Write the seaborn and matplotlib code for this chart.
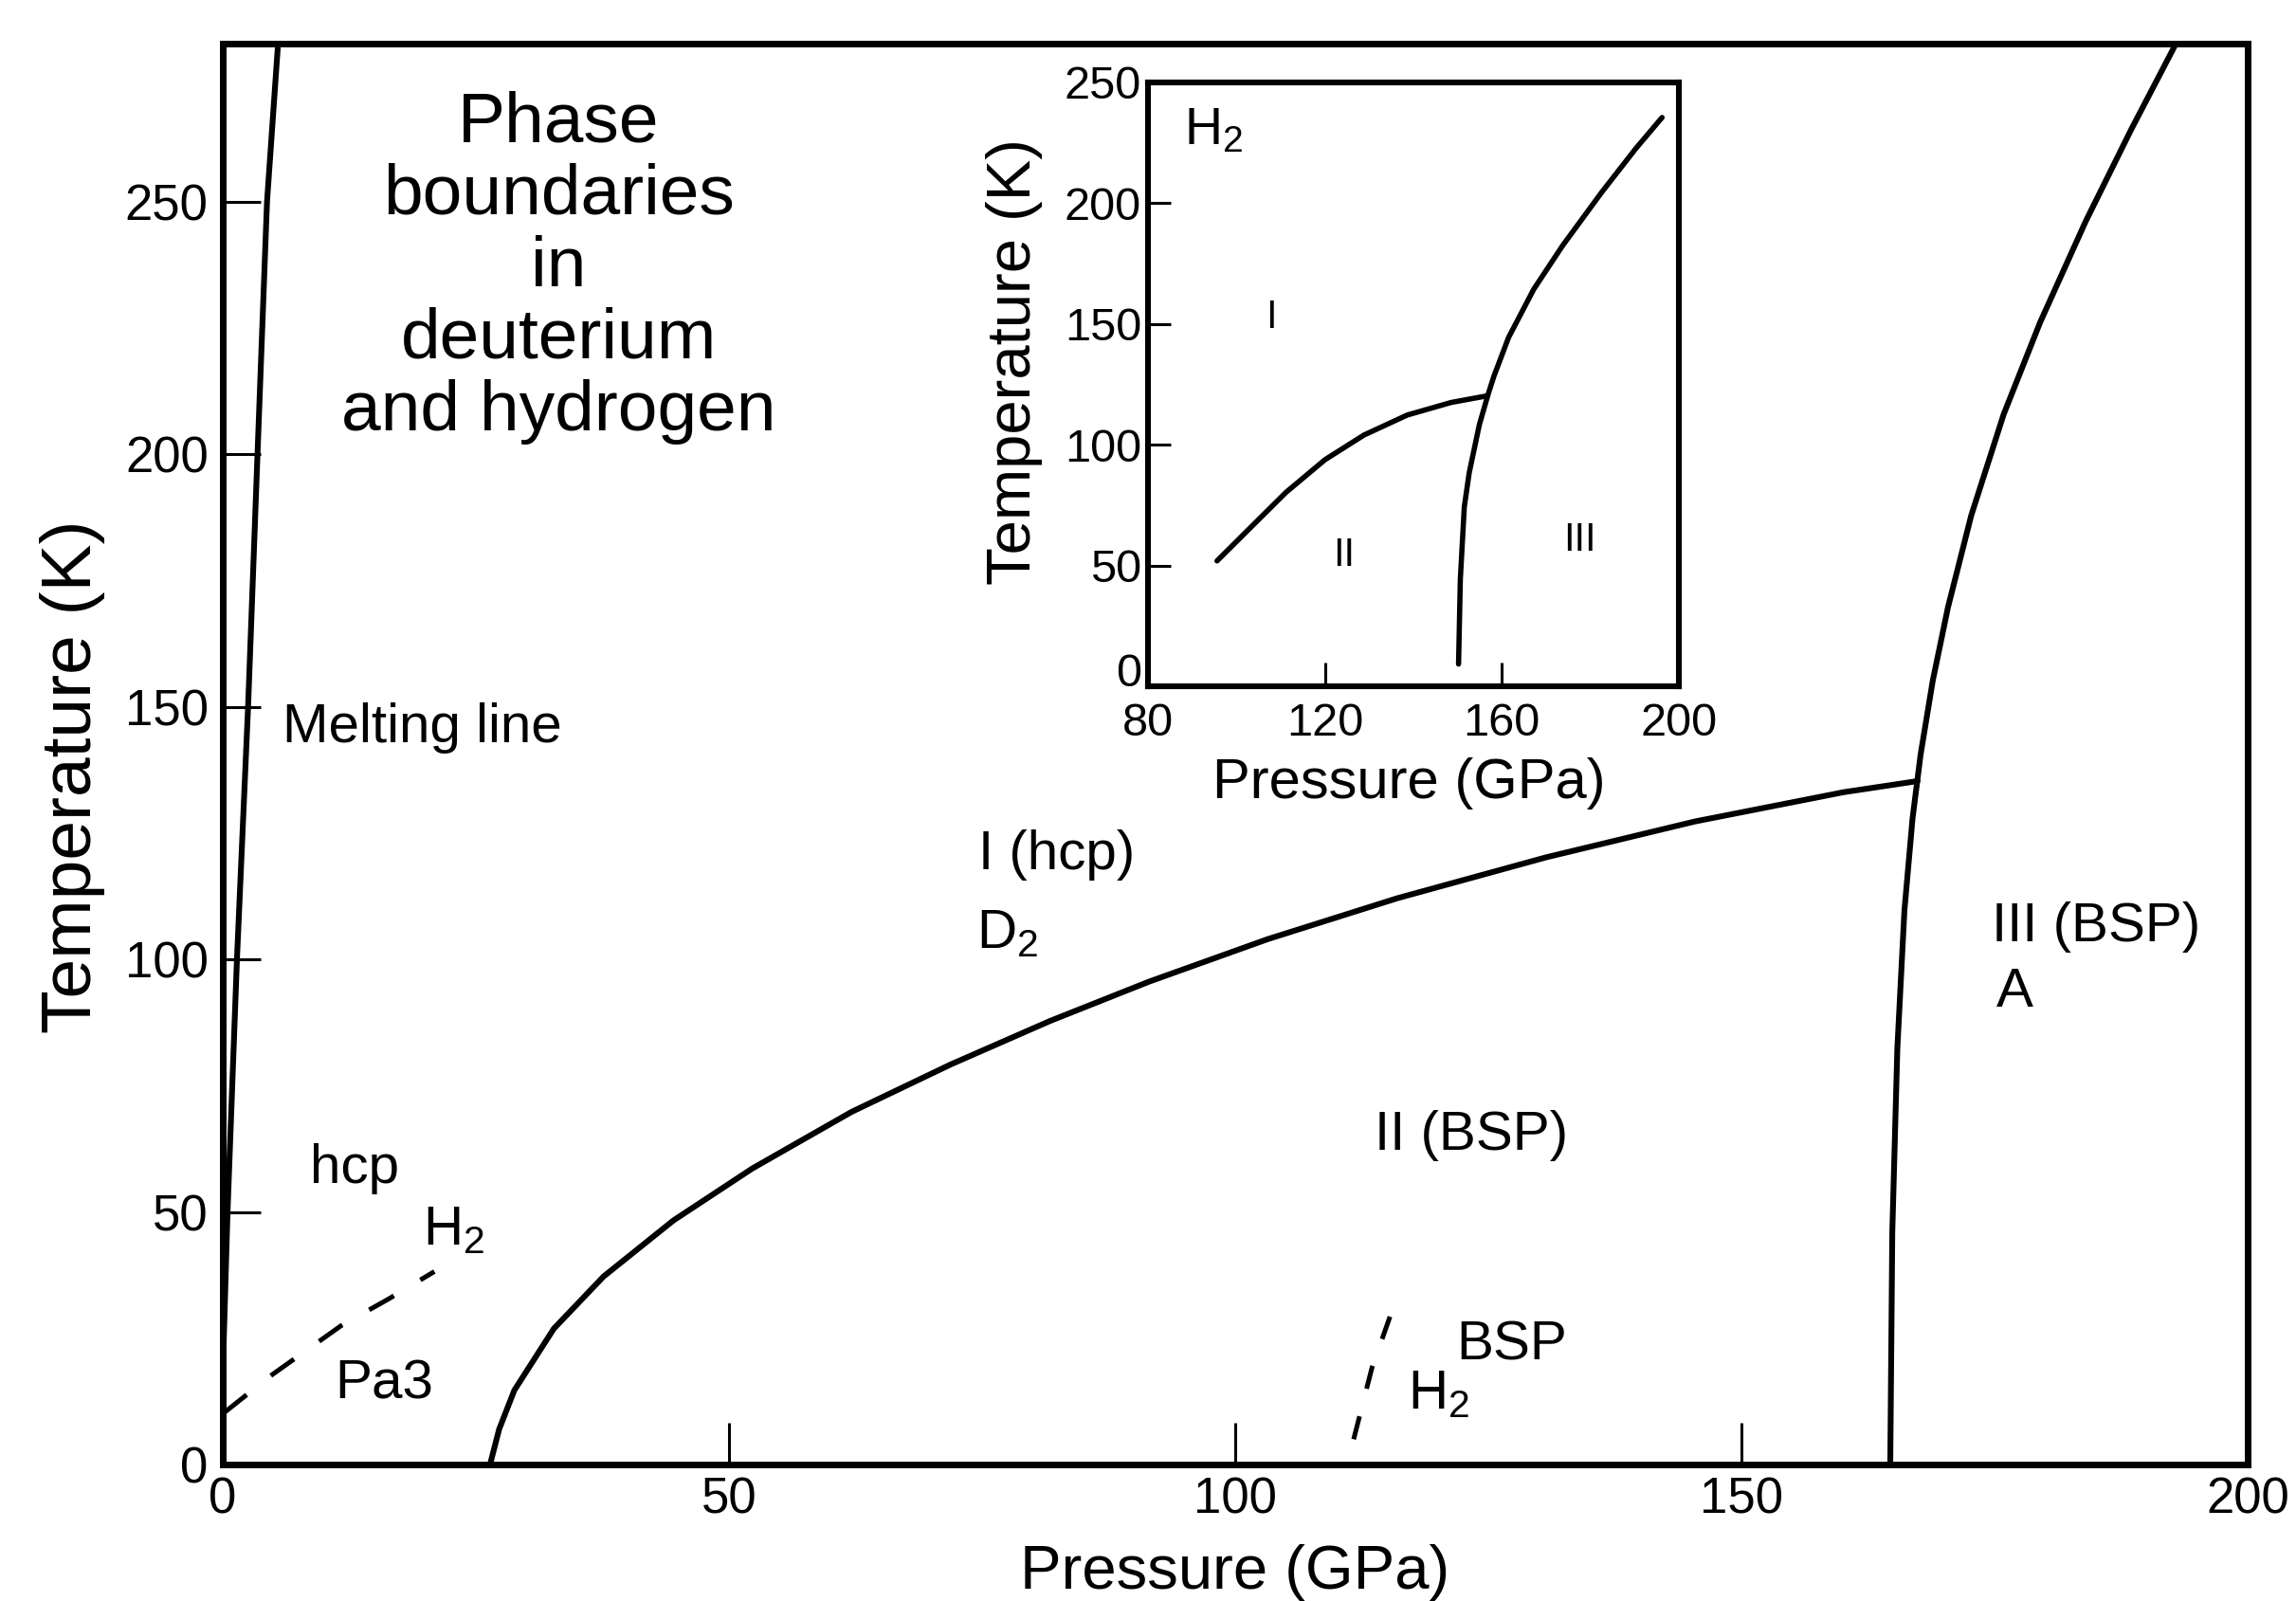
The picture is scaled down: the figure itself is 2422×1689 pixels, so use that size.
import numpy as np
import pandas as pd
import matplotlib
matplotlib.use("Agg")
import matplotlib.pyplot as plt
import seaborn as sns

# ---------------- data ----------------
# Main panel: pressure (GPa) vs temperature (K)
melt_p = [0.0, 0.47, 1.40, 2.50, 3.43, 4.37, 5.46]
melt_t = [18.0, 50.0, 100.0, 150.0, 200.0, 250.0, 281.3]

b12_p = [26.4, 27.3, 28.8, 32.7, 37.6, 44.5, 52.3, 62.1, 71.9, 81.7, 91.5,
         103.2, 116.0, 130.7, 145.4, 160.1, 167.4]
b12_t = [0.0, 7.0, 14.7, 26.9, 37.2, 48.3, 58.6, 69.8, 79.2, 87.8, 95.6,
         104.0, 112.1, 120.2, 127.3, 133.1, 135.3]

b3_p = [164.7, 164.9, 165.4, 166.1, 166.9, 167.7, 168.9, 170.4, 172.7,
        175.9, 179.5, 184.0, 188.5, 193.0]
b3_t = [0.0, 46.0, 82.4, 109.7, 127.9, 140.6, 155.2, 169.7, 187.9,
        207.9, 226.1, 246.1, 264.3, 281.6]

pa3_p = [0.16, 4.68, 11.7, 16.4, 20.9]
pa3_t = [10.3, 17.5, 27.5, 32.8, 38.2]

bsp_p = [111.7, 113.5, 115.8]
bsp_t = [5.0, 19.1, 32.2]

# Inset (H2)
in12_p = [95.6, 102.4, 111.2, 120.0, 128.8, 138.6, 148.5, 156.8]
in12_t = [51.9, 64.3, 80.3, 93.8, 104.0, 112.3, 117.5, 120.3]

in3_p = [150.2, 150.6, 151.5, 152.6, 154.9, 156.9, 158.2, 161.5, 167.2,
         173.7, 182.5, 190.2, 196.2]
in3_t = [9.2, 44.3, 74.3, 88.3, 108.3, 121.0, 128.4, 144.4, 164.4,
         182.4, 204.4, 222.5, 235.5]

main_xticks = [0, 50, 100, 150, 200]
main_yticks = [0, 50, 100, 150, 200, 250]
inset_xticks = [80, 120, 160, 200]
inset_yticks = [0, 50, 100, 150, 200, 250]

# ---------------- style ----------------
sns.set_style("white")
plt.rcParams["font.family"] = ["Liberation Sans", "DejaVu Sans"]
plt.rcParams["mathtext.fontset"] = "custom"
plt.rcParams["mathtext.rm"] = "Liberation Sans"
plt.rcParams["mathtext.it"] = "Liberation Sans:italic"
plt.rcParams["mathtext.bf"] = "Liberation Sans:bold"
for k in ["text.color", "axes.labelcolor", "xtick.color", "ytick.color",
          "axes.edgecolor"]:
    plt.rcParams[k] = "black"

W, H = 2422, 1689
fig = plt.figure(figsize=(W / 100, H / 100), dpi=100)
fig.patch.set_facecolor("white")

ax = fig.add_axes([235 / W, (H - 1545) / H, 2136 / W, 1499 / H])
LW = 4.4

def curve(a, p, t, **kw):
    df = pd.DataFrame({"P": p, "T": t})
    sns.lineplot(data=df, x="P", y="T", ax=a, sort=False, estimator=None,
                 color="black", **kw)

curve(ax, melt_p, melt_t, linewidth=LW)
curve(ax, b12_p, b12_t, linewidth=LW)
curve(ax, b3_p, b3_t, linewidth=LW)
curve(ax, pa3_p, pa3_t, linewidth=3.6, linestyle=(0, (6.0, 6.5)))
curve(ax, bsp_p, bsp_t, linewidth=3.6, linestyle=(0, (5.0, 6.0)))

ax.set_xlim(0, 200)
ax.set_ylim(0, 281.3)
ax.set_xticks(main_xticks)
ax.set_yticks(main_yticks)
ax.tick_params(axis="x", direction="in", length=32, width=2.2, pad=9,
               labelsize=38, bottom=True, top=False, colors="black")
ax.tick_params(axis="y", direction="in", length=29, width=2.2, pad=11,
               labelsize=38, left=True, right=False, colors="black")
for s in ax.spines.values():
    s.set_linewidth(5.0)
    s.set_color("black")
    s.set_visible(True)

ax.set_xlabel("Pressure (GPa)", fontsize=47)
ax.set_ylabel("Temperature (K)", fontsize=54)
ax.xaxis.set_label_coords(0.5, -0.056)
ax.yaxis.set_label_coords(-0.058, 0.484)

FS = 42
ax.text(33.2, 272.0, "Phase\nboundaries\nin\ndeuterium\nand hydrogen",
        fontsize=54, ha="center", va="top", multialignment="center",
        linespacing=1.13)
ax.text(5.9, 143.0, "Melting line", fontsize=FS, ha="left", va="baseline")
ax.text(74.6, 117.9, "I (hcp)", fontsize=FS, ha="left", va="baseline")
ax.text(74.4, 102.3, r"D$_\mathregular{2}$", fontsize=FS, ha="left", va="baseline")
ax.text(113.8, 62.3, "II (BSP)", fontsize=FS, ha="left", va="baseline")
ax.text(174.7, 103.6, "III (BSP)", fontsize=FS, ha="left", va="baseline")
ax.text(175.2, 90.7, "A", fontsize=FS, ha="left", va="baseline")
ax.text(8.6, 55.7, "hcp", fontsize=FS, ha="left", va="baseline")
ax.text(19.8, 43.5, r"H$_\mathregular{2}$", fontsize=FS, ha="left", va="baseline")
ax.text(11.1, 13.1, "Pa3", fontsize=FS, ha="left", va="baseline")
ax.text(121.8, 20.8, "BSP", fontsize=FS, ha="left", va="baseline")
ax.text(117.0, 11.0, r"H$_\mathregular{2}$", fontsize=FS, ha="left", va="baseline")

# ---------------- inset ----------------
ax2 = fig.add_axes([1211 / W, (H - 724) / H, 560 / W, 637 / H])
ax2.set_facecolor("white")
curve(ax2, in12_p, in12_t, linewidth=4.0)
curve(ax2, in3_p, in3_t, linewidth=4.0)
ax2.set_xlim(80, 200)
ax2.set_ylim(0, 250)
ax2.set_xticks(inset_xticks)
ax2.set_yticks(inset_yticks)
ax2.tick_params(axis="x", direction="in", length=18, width=2.2, pad=12,
                labelsize=35, bottom=True, top=False, colors="black")
ax2.tick_params(axis="y", direction="in", length=17, width=2.2, pad=5,
                labelsize=35, left=True, right=False, colors="black")
for s in ax2.spines.values():
    s.set_linewidth(4.4)
    s.set_color("black")
    s.set_visible(True)
ax2.set_xlabel("Pressure (GPa)", fontsize=43)
ax2.set_ylabel("Temperature (K)", fontsize=47)
ax2.xaxis.set_label_coords(0.491, -0.118)
ax2.yaxis.set_label_coords(-0.198, 0.537)
ax2.get_yticklabels()[0].set_va("baseline")

ax2.text(88.2, 224.5, r"H$_\mathregular{2}$", fontsize=40, ha="left", va="baseline")
ax2.text(107.9, 152.7, "I", fontsize=30, ha="center", va="center")
ax2.text(124.3, 54.2, "II", fontsize=30, ha="center", va="center")
ax2.text(177.6, 60.4, "III", fontsize=30, ha="center", va="center")

fig.savefig("out.png", dpi=100, facecolor="white")
